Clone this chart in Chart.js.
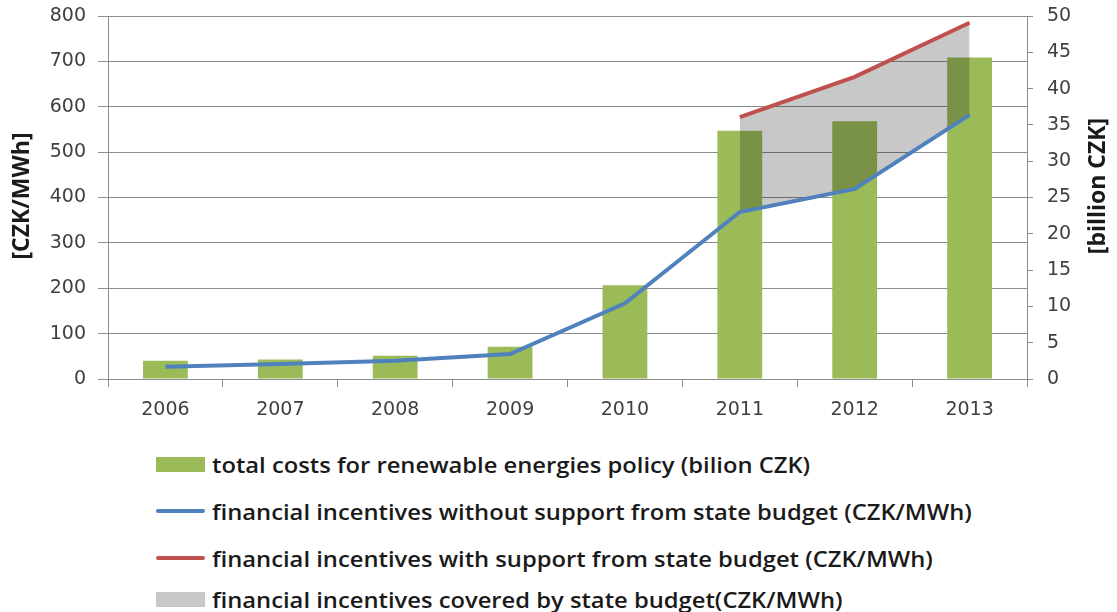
<!DOCTYPE html>
<html>
<head>
<meta charset="utf-8">
<script src="https://cdn.jsdelivr.net/npm/chart.js@4.4.1/dist/chart.umd.min.js"></script>
<style>
  body { margin: 0; background: #fff; }
  #wrap { position: relative; width: 1117px; height: 612px; }
  #chart { position: absolute; left: 0; top: 0; }
  #legend { position: absolute; left: 156px; top: 0; font-family: "Open Sans", sans-serif; font-weight: 600; font-size: 22px; color: #1a1a1a; }
  .item { position: absolute; left: 0; height: 30px; display: flex; align-items: center; white-space: nowrap; }
  .sw { width: 49px; margin-right: 7px; flex: none; }
  .txt { display: inline-block; transform: scaleX(1.08); transform-origin: left center; }
</style>
</head>
<body>
<div id="wrap">
  <canvas id="chart" width="1117" height="440"></canvas>
  <div id="legend"></div>
</div>
<script>
var years = ["2006", "2007", "2008", "2009", "2010", "2011", "2012", "2013"];
// total costs, billion CZK (right axis)
var totalCosts = [2.5, 2.7, 3.2, 4.45, 12.9, 34.2, 35.5, 44.3];
// CZK/MWh (left axis)
var withoutBudget = [27, 33, 40, 55, 167, 368, 419, 582];
var withBudget = [null, null, null, null, null, 577, 666, 785];

var leftTicks = [0, 100, 200, 300, 400, 500, 600, 700, 800];
var rightTicks = [0, 5, 10, 15, 20, 25, 30, 35, 40, 45, 50];

var legendItems = [
  { label: "total costs for renewable energies policy (bilion CZK)", color: "#9bbb59", type: "box" },
  { label: "financial incentives without support from state budget (CZK/MWh)", color: "#4f81bd", type: "line" },
  { label: "financial incentives with support from state budget (CZK/MWh)", color: "#c0504d", type: "line" },
  { label: "financial incentives covered by state budget(CZK/MWh)", color: "#c8c8c8", type: "box" }
];
var legendRowY = [464, 511, 558, 599];

var tickFont = { family: "DejaVu Sans", size: 19 };
var gridColor = "#8c8c8c";

// axis titles, both read bottom to top
var axisTitles = {
  id: "axisTitles",
  afterDraw: function (chart) {
    var c = chart.ctx;
    [["[CZK/MWh]", 22, 196], ["[billion CZK]", 1098, 186]].forEach(function (t) {
      c.save();
      c.fillStyle = "#1a1a1a";
      c.font = "bold 23px 'Open Sans'";
      c.textAlign = "center";
      c.textBaseline = "middle";
      c.translate(t[1], t[2]);
      c.rotate(-Math.PI / 2);
      c.fillText(t[0], 0, 0);
      c.restore();
    });
  }
};

function fitY(width) {
  return function (s) {
    s.width = width;
    s.paddingTop = 0;
    s.paddingBottom = 0;
  };
}

var ctx = document.getElementById("chart");
var myChart = new Chart(ctx, {
  data: {
    labels: years,
    datasets: [{
      type: "bar",
      label: legendItems[0].label,
      data: totalCosts,
      yAxisID: "y1",
      backgroundColor: "#9bbb59",
      barPercentage: 0.78,
      categoryPercentage: 0.5,
      order: 3
    },
    {
      type: "line",
      label: legendItems[1].label,
      data: withoutBudget,
      yAxisID: "y",
      borderColor: "#4f81bd",
      borderWidth: 4,
      pointRadius: 0,
      tension: 0,
      fill: false,
      order: 1
    },
    {
      type: "line",
      label: legendItems[2].label,
      data: withBudget,
      yAxisID: "y",
      borderColor: "#c0504d",
      borderWidth: 4,
      pointRadius: 0,
      tension: 0,
      fill: { target: 1 },
      backgroundColor: "rgba(0,0,0,0.215)",
      order: 2
    }]
  },
  options: {
    responsive: false,
    animation: false,
    layout: { padding: { top: 16, left: 0, right: 0, bottom: 0 } },
    plugins: {
      legend: { display: false },
      tooltip: { enabled: false }
    },
    scales: {
      x: {
        offset: true,
        grid: { offset: true, drawOnChartArea: false, color: gridColor, tickLength: 8 },
        border: { color: gridColor },
        ticks: { font: tickFont, color: "#404040", padding: 12 },
        afterFit: function (s) { s.height = 440 - 379; s.paddingLeft = 0; s.paddingRight = 0; }
      },
      y: {
        position: "left",
        min: 0,
        max: 800,
        afterBuildTicks: function (s) { s.ticks = leftTicks.map(function (v) { return { value: v }; }); },
        grid: { color: gridColor, tickLength: 10 },
        border: { color: gridColor },
        ticks: { font: tickFont, color: "#404040", padding: 12 },
        afterFit: fitY(108)
      },
      y1: {
        position: "right",
        min: 0,
        max: 50,
        afterBuildTicks: function (s) { s.ticks = rightTicks.map(function (v) { return { value: v }; }); },
        grid: { drawOnChartArea: false, color: gridColor, tickLength: 6 },
        border: { color: gridColor },
        ticks: { font: tickFont, color: "#404040", padding: 14 },
        afterFit: fitY(90)
      }
    }
  },
  plugins: [axisTitles]
});

var legend = document.getElementById("legend");
legendItems.forEach(function (it, i) {
  var row = document.createElement("div");
  row.className = "item";
  row.style.top = (legendRowY[i] - 15) + "px";
  var sw = document.createElement("div");
  sw.className = "sw";
  sw.style.background = it.color;
  sw.style.height = it.type === "box" ? "15px" : "4px";
  if (it.type === "line") sw.style.borderRadius = "2px";
  row.appendChild(sw);
  var t = document.createElement("span");
  t.className = "txt";
  t.textContent = it.label;
  row.appendChild(t);
  legend.appendChild(row);
});
</script>
</body>
</html>
